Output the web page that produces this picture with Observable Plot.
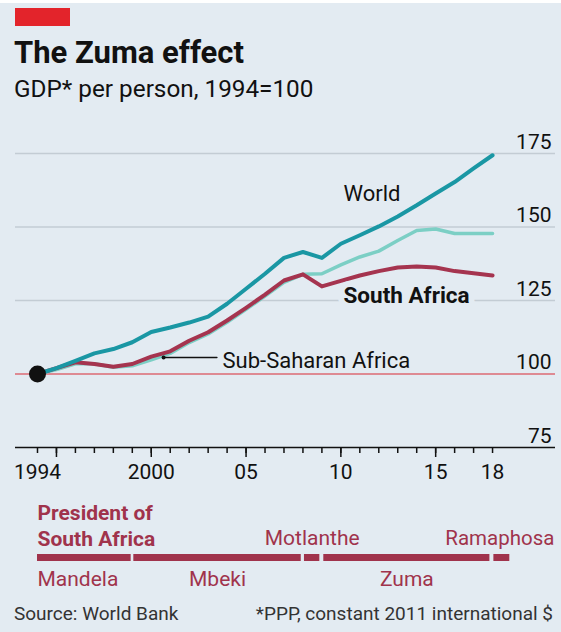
<!DOCTYPE html>
<html><head><meta charset="utf-8">
<script src="https://cdn.jsdelivr.net/npm/d3@7"></script>
<script src="https://cdn.jsdelivr.net/npm/@observablehq/plot@0.6"></script>
<style>
html,body{margin:0;padding:0;background:#e3ebf2;}
#wrap{position:relative;width:561px;height:632px;overflow:hidden;background:#e3ebf2;font-family:Roboto,"Noto Sans",sans-serif;color:#111;}
#topband{position:absolute;left:0;top:0;width:561px;height:3px;background:#fff;}
#redtag{position:absolute;left:15px;top:8px;width:55px;height:18px;background:#e3242b;}
.t{position:absolute;white-space:nowrap;line-height:1;}
#title{left:14px;top:37px;font-size:31px;font-weight:700;}
#subtitle{left:14px;top:77px;font-size:24.3px;}
#source{left:14px;top:604px;font-size:19px;color:#333;}
#note{right:8px;top:604px;font-size:19px;color:#333;}
#main{position:absolute;left:0;top:110px;}
#tl{position:absolute;left:0;top:500px;}
</style></head>
<body>
<div id="wrap">
  <div id="topband"></div>
  <div id="redtag"></div>
  <div class="t" id="title">The Zuma effect</div>
  <div class="t" id="subtitle">GDP* per person, 1994=100</div>
  <div id="main"></div>
  <div id="tl"></div>
  <div class="t" id="source">Source: World Bank</div>
  <div class="t" id="note">*PPP, constant 2011 international $</div>
</div>
<script>
// ---- data ----
const years = d3.range(1994, 2019);
const world = [100, 102, 104.5, 107, 108.5, 110.8, 114.3, 115.8, 117.5, 119.5, 123.9, 129, 134.1, 139.5, 141.5, 139.5, 144.3, 147.2, 150.2, 153.6, 157.4, 161.4, 165.3, 169.9, 174.4];
const southAfrica = [100, 102, 104, 103.4, 102.5, 103.4, 105.9, 107.7, 111.3, 114.2, 118.2, 122.5, 127, 131.8, 133.9, 129.8, 131.7, 133.5, 135, 136.2, 136.6, 136.2, 135, 134.3, 133.5];
const subSaharan = [100, 101.5, 103.5, 103.5, 102.3, 102.8, 104.8, 107, 110.7, 113.6, 117.6, 122, 126.5, 131.2, 133.9, 134.1, 137.1, 139.8, 141.8, 145.4, 148.8, 149.3, 147.8, 147.8, 147.8];
const yTicks = [75, 100, 125, 150, 175];
const xLabelYears = [1994, 2000, 2005, 2010, 2015, 2018];
const xLabelText = ["1994", "2000", "05", "10", "15", "18"];
const majorTicks = [1995, 2000, 2005, 2010, 2015];
const presidents = ["Mandela", "Mbeki", "Motlanthe", "Zuma", "Ramaphosa"];
const termStart = [1994, 1999.08, 2008.08, 2009.1, 2018.07];
const termEnd = [1998.94, 2007.91, 2008.89, 2017.86, 2018.91];

// ---- styling ----
const BG = "#e3ebf2";
const MAROON = "#a0334c";
const X0 = 1992.84, X1 = 2021.32;
const xLabelMap = new Map(xLabelYears.map((d, i) => [d, xLabelText[i]]));
const yr = (d, i) => years[i];
const val = d => d;
const mid = d => { const i = presidents.indexOf(d); return (termStart[i] + termEnd[i]) / 2; };

const main = Plot.plot({
  width: 561, height: 390,
  marginLeft: 15, marginRight: 6, marginTop: 43, marginBottom: 53,
  style: {background: "transparent", fontFamily: "Roboto, sans-serif", fontSize: "21px", color: "#111", overflow: "visible"},
  x: {domain: [X0, X1], axis: null},
  y: {domain: [75, 175], axis: null},
  marks: [
    Plot.ruleY([125, 150, 175], {stroke: "#c3ccd4", strokeWidth: 1.5}),
    Plot.ruleY([100], {stroke: "#dd6a73", strokeWidth: 1.3}),
    Plot.ruleY([75], {stroke: "#111", strokeWidth: 1.5}),
    Plot.axisX({ticks: years, tickSize: 6, tickFormat: () => "", stroke: "#111", strokeWidth: 1.5}),
    Plot.axisX({ticks: majorTicks, tickSize: 10, tickFormat: () => "", stroke: "#111", strokeWidth: 1.5}),
    Plot.axisX({ticks: xLabelYears, tickSize: 0, tickPadding: 17, tickFormat: d => xLabelMap.get(d), fontSize: 21, fill: "#111"}),
    Plot.text(yTicks, {x: () => X1, y: d => d, text: d => String(d), textAnchor: "end", lineAnchor: "bottom", dx: -4, dy: -5, fontSize: 21, fill: "#111"}),
    Plot.line(subSaharan, {x: yr, y: val, stroke: "#7ccfc5", strokeWidth: 3.5, strokeLinejoin: "round"}),
    Plot.line(southAfrica, {x: yr, y: val, stroke: "#a5344f", strokeWidth: 4, strokeLinejoin: "round"}),
    Plot.line(world, {x: yr, y: val, stroke: "#1a97a4", strokeWidth: 4, strokeLinejoin: "round"}),
    Plot.dot([0], {x: () => years[0], y: () => world[0], r: 8.5, fill: "#111"}),
    Plot.line([[2000.65, 105.6], [2003.46, 105.6]], {stroke: "#111", strokeWidth: 1.5}),
    Plot.dot([0], {x: () => 2000.65, y: () => 105.6, r: 2, fill: "#111"}),
    Plot.text(["World"], {x: () => 2010.14, y: () => 159, textAnchor: "start", lineAnchor: "bottom", fontSize: 22, fill: "#111"}),
    Plot.text(["South Africa"], {x: () => 2010.14, y: () => 124, textAnchor: "start", lineAnchor: "bottom", fontSize: 22.5, fontWeight: "bold", fill: "#111", stroke: BG, strokeWidth: 12}),
    Plot.text(["Sub-Saharan Africa"], {x: () => 2003.76, y: () => 102.2, textAnchor: "start", lineAnchor: "bottom", fontSize: 22, fill: "#111"})
  ]
});
document.getElementById("main").appendChild(main);

const tl = Plot.plot({
  width: 561, height: 100,
  marginLeft: 15, marginRight: 6, marginTop: 54, marginBottom: 39,
  style: {background: "transparent", fontFamily: "Roboto, sans-serif", fontSize: "21px", overflow: "visible"},
  x: {domain: [X0, X1], axis: null},
  y: {domain: [0, 1], axis: null},
  marks: [
    Plot.rect(presidents, {x1: (d, i) => termStart[i], x2: (d, i) => termEnd[i], y1: () => 0, y2: () => 1, fill: MAROON}),
    Plot.text(["President of\nSouth Africa"], {x: () => termStart[0], y: () => 1, dy: -9, textAnchor: "start", lineAnchor: "bottom", lineHeight: 1.2, fontSize: 21, fontWeight: "bold", fill: MAROON}),
    Plot.text(["Motlanthe"], {x: mid, y: () => 1, dy: -10, textAnchor: "middle", lineAnchor: "bottom", fontSize: 21, fill: MAROON}),
    Plot.text(["Ramaphosa"], {x: mid, y: () => 1, dy: -10, dx: -2, textAnchor: "middle", lineAnchor: "bottom", fontSize: 20.5, fill: MAROON}),
    Plot.text(["Mandela"], {x: () => termStart[0], y: () => 0, dy: 24, textAnchor: "start", lineAnchor: "bottom", fontSize: 21, fill: MAROON}),
    Plot.text(["Mbeki", "Zuma"], {x: mid, y: () => 0, dy: 24, textAnchor: "middle", lineAnchor: "bottom", fontSize: 21, fill: MAROON})
  ]
});
document.getElementById("tl").appendChild(tl);
</script>
</body></html>
